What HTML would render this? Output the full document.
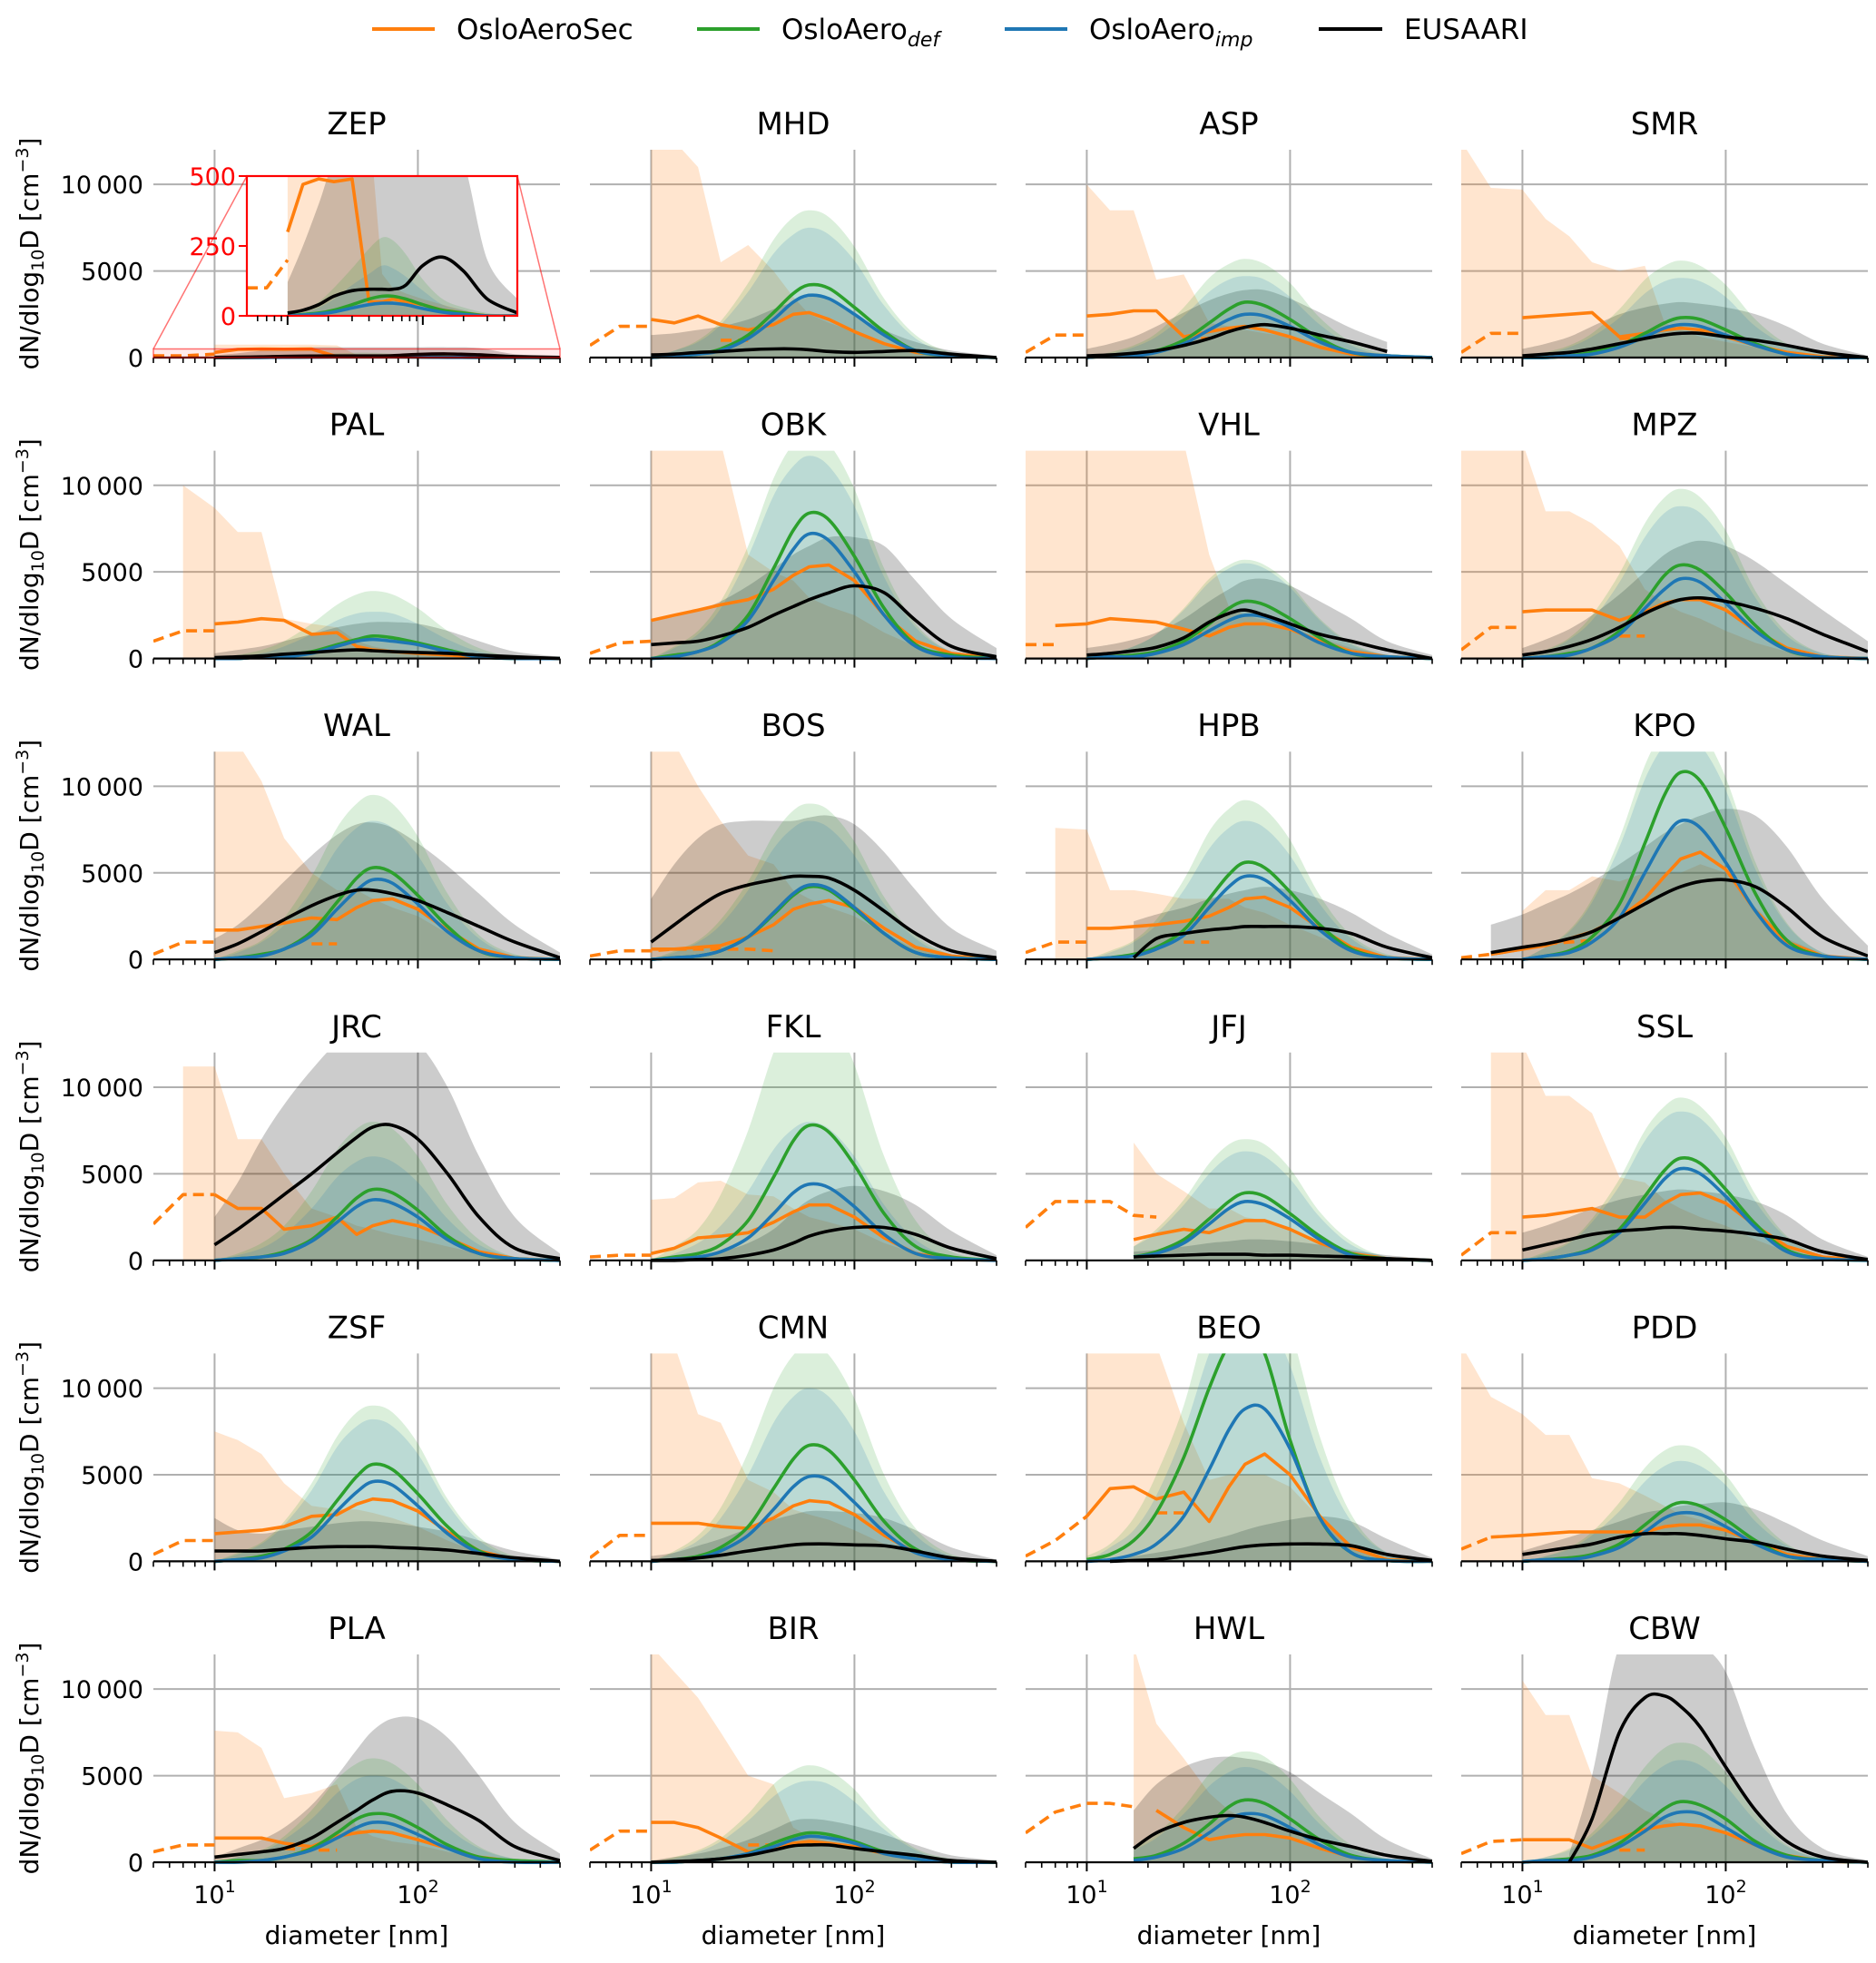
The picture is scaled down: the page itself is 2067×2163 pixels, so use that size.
<!DOCTYPE html>
<html><head><meta charset="utf-8">
<style>
body{margin:0;background:#fff;}
svg{display:block;font-family:"DejaVu Sans","Liberation Sans",sans-serif;}
</style></head>
<body>
<svg id="chart" width="2067" height="2163" viewBox="0 0 2067 2163" xmlns="http://www.w3.org/2000/svg">
<rect x="0" y="0" width="2067" height="2163" fill="#fff"/>
<g>
  <g>
    <line x1="410" y1="32" x2="479" y2="32" stroke="#ff7f0e" stroke-width="4"/>
    <text x="503" y="43" font-size="31" fill="#000">OsloAeroSec</text>
  </g>
  <g>
    <line x1="768" y1="32" x2="837" y2="32" stroke="#2ca02c" stroke-width="4"/>
    <text x="861" y="43" font-size="31" fill="#000">OsloAero<tspan font-size="22" font-style="italic" dy="8">def</tspan></text>
  </g>
  <g>
    <line x1="1107" y1="32" x2="1176" y2="32" stroke="#1f77b4" stroke-width="4"/>
    <text x="1200" y="43" font-size="31" fill="#000">OsloAero<tspan font-size="22" font-style="italic" dy="8">imp</tspan></text>
  </g>
  <g>
    <line x1="1453" y1="32" x2="1523" y2="32" stroke="#000" stroke-width="4"/>
    <text x="1547" y="43" font-size="31" fill="#000">EUSAARI</text>
  </g>
</g>
<defs id="defs"></defs>
<g id="panels"></g>
</svg>
<script>
const n = null;
const G = [5,7,10,13,17,22,30,40,50,60,75,100,140,200,300,500];
const GM = [10,13,17,22,30,40,50,60,75,100,140,200,300,500];
const stations = ["ZEP","MHD","ASP","SMR","PAL","OBK","VHL","MPZ","WAL","BOS","HPB","KPO","JRC","FKL","JFJ","SSL","ZSF","CMN","BEO","PDD","PLA","BIR","HWL","CBW"];
const yTickValues = [0,5000,10000];
const yTickLabels = ["0","5000","10\u2009000"];
const insetTickValues = [0,250,500];

// values in 1000 cm^-3 on grid G
const secLine = [
[n,n,.3,.47,.49,.48,.49,.05,.05,.06,.05,.04,.02,.01,0,0],
[n,n,2.2,2.0,2.4,1.9,1.6,1.9,2.5,2.6,2.2,1.5,.8,.3,.1,0],
[n,n,2.4,2.5,2.7,2.7,1.2,1.5,1.7,1.8,1.6,1.2,.6,.2,.05,0],
[n,n,2.3,2.4,2.5,2.6,1.2,1.4,1.6,1.7,1.6,1.2,.7,.3,.05,0],
[n,n,2.0,2.1,2.3,2.2,1.4,1.5,.7,.5,.4,.3,.2,.1,0,0],
[n,n,2.2,2.5,2.8,3.1,3.4,4.0,4.8,5.3,5.4,4.5,2.5,1,.3,0],
[n,1.9,2,2.3,2.2,2.1,1.7,1.3,1.8,2,2,1.7,1,.4,.1,0],
[n,n,2.7,2.8,2.8,2.8,2.2,2.7,3.2,3.4,3.4,2.8,1.6,.6,.1,0],
[n,n,1.7,1.7,1.9,2.1,2.4,2.3,3,3.4,3.5,2.9,1.7,.6,.1,0],
[n,n,.6,.6,.7,.8,1.3,2,2.9,3.2,3.4,3,1.8,.7,.2,0],
[n,n,1.8,1.8,1.9,2,2.2,2.5,3,3.5,3.6,3,1.8,.7,.1,0],
[n,.3,.6,.8,1.2,1.6,2.4,3.5,4.8,5.8,6.2,5.2,2.8,1,.2,0],
[n,n,3.8,3,3,1.8,2,2.5,1.5,2,2.3,2,1.3,.5,.1,0],
[n,n,.4,.7,1.3,1.4,1.6,2.2,2.8,3.2,3.2,2.5,1.3,.4,.05,0],
[n,n,n,n,1.2,1.5,1.8,1.6,2,2.3,2.3,1.8,1,.4,.1,0],
[n,n,2.5,2.6,2.8,3,2.5,2.5,3.3,3.8,3.9,3.3,2,.8,.2,0],
[n,n,1.6,1.7,1.8,2,2.6,2.7,3.3,3.6,3.5,2.9,1.7,.6,.1,0],
[n,n,2.2,2.2,2.2,2,1.9,2.5,3.2,3.5,3.4,2.7,1.5,.5,.1,0],
[n,n,2.6,4.2,4.3,3.6,4,2.3,4.3,5.6,6.2,5,2.6,.8,.1,0],
[n,1.4,1.5,1.6,1.7,1.7,1.7,1.7,2,2.1,2.1,1.8,1.1,.4,.1,0],
[n,n,1.4,1.4,1.4,1.1,.9,1.5,1.7,1.8,1.7,1.3,.8,.3,.05,0],
[n,n,2.3,2.3,2,1.4,.6,.8,1.1,1.2,1.1,.9,.5,.2,.05,0],
[n,n,n,n,n,3,2,1.3,1.5,1.6,1.6,1.4,.8,.3,.05,0],
[n,n,1.3,1.3,1.3,.8,1.4,1.9,2.1,2.2,2.1,1.7,1,.4,.05,0]
];
const secDash = [
[.1,.1,.2],[.7,1.8,1.8,n,n,1.0,1.0],[.3,1.3,1.3,n,n,n,1.1,1.1],[.3,1.4,1.4,n,n,n,1.1,1.1],
[1,1.6,1.6],[.3,.9,1],[.8,.8],[.5,1.8,1.8,n,n,n,1.3,1.3],
[.3,1,1,n,n,n,.9,.9],[.2,.5,.5,.6,.6,.6,.6,.5],[.4,1,1,n,n,n,1,1],[.1,.3,.6,.9,1,1.1],
[2.1,3.8,3.8],[.2,.3,.3],[1.9,3.4,3.4,3.4,2.6,2.5],[.3,1.6,1.6],
[.4,1.2,1.2],[.2,1.5,1.5],[.3,1.2,2.6,n,n,2.8,2.8],[.7,1.4],
[.6,1,1,n,n,.8,.7,.7],[.7,1.8,1.8,n,n,n,1,1],[1.7,2.9,3.4,3.4,3.2],[.5,1.2,1.3,n,n,n,.7,.7]
];
const secBand = [
[n,n,.75,.75,.75,.75,.75,.7,.15,.1,.08,.06,.04,.02,0,0],
[n,n,12.5,12.5,11,5.5,6.5,5,3.5,2.5,2,1.5,.8,.4,.2,0],
[n,n,10,8.5,8.5,4.5,4.8,2,1.8,1.6,1.4,1.2,.8,.4,.2,0],
[12.5,9.8,9.7,8,7,5.5,5,5.3,2,1.6,1.2,.9,.6,.3,.1,0],
[n,10,8.7,7.3,7.3,2.3,2,1.8,1,.7,.5,.3,.2,.1,0,0],
[n,n,12.5,12.5,12.5,12.5,6,5,4.5,3.5,3,2.5,1.5,.7,.3,0],
[12.5,12.5,12.5,12.5,12.5,12.5,12.5,6,3,2.5,2.2,1.8,1.2,.6,.2,0],
[12.5,12.5,12.5,8.5,8.5,7.8,6.5,4,3.2,2.7,2.3,1.6,.9,.4,.1,0],
[n,n,12.5,12.5,10.3,7,5,4,4,3.5,3,2.5,1.5,.6,.2,0],
[n,n,12.5,12.5,10,8,6,5.5,4,3.5,3,2.5,1.5,.6,.2,0],
[n,7.6,7.5,4,4,3.8,3.5,3.5,3.5,3,2.7,2,1.3,.6,.2,0],
[n,n,2.8,4,4,4.8,4.5,5,5,5,5.5,5,3,1.2,.3,0],
[n,11.2,11.2,7,7,5,3,2.5,2,1.8,1.5,1.2,.8,.4,.1,0],
[n,n,3.5,3.6,4.5,4.6,3.8,3.7,3,2.5,2.2,1.8,1,.4,.1,0],
[n,n,n,n,6.8,5,4,3,3,2.5,2.3,1.8,1.1,.5,.1,0],
[n,12.5,12.5,9.5,9.5,8.5,4.8,4.5,3.5,3,2.5,2,1.2,.5,.1,0],
[n,n,7.5,7,6.2,4.5,3.2,3,3,2.8,2.5,2,1.2,.5,.1,0],
[n,n,12.5,12.5,8.5,8,4.7,4,3,2.7,2.4,1.8,1,.4,.1,0],
[n,n,12.5,12.5,12.5,12.5,8,4.7,5,5,5,4.3,2.5,1,.2,0],
[12.5,9.5,8.5,7.3,7.3,4.8,4.5,3.8,3.2,2.7,2.4,2,1.3,.6,.2,0],
[n,n,7.6,7.5,6.6,3.7,4,4.5,2,1.5,1.2,1,.6,.3,.1,0],
[n,n,12.5,11,9.5,7.5,5,4.5,2,1.5,1.2,1,.6,.3,.1,0],
[n,n,n,n,12.5,8,6,4,3,2.5,2.2,1.8,1,.4,.1,0],
[n,n,10.5,8.5,8.5,5,4,3,2.5,2.2,2,1.6,1,.4,.1,0]
];
const obsLine = [
[n,n,.01,.02,.04,.07,.09,.095,.095,.095,.11,.18,.21,.16,.06,.01],
[n,n,.15,.2,.3,.35,.45,.5,.5,.45,.35,.3,.35,.4,.2,0],
[n,n,.1,.15,.25,.4,.7,1.1,1.5,1.75,1.9,1.7,1.3,.9,.35],
[n,n,.1,.2,.3,.5,.8,1.1,1.3,1.4,1.4,1.2,1,.7,.3,0],
[n,n,.05,.1,.15,.25,.35,.45,.5,.45,.4,.35,.3,.2,.1,0],
[n,n,.8,.9,1,1.3,1.8,2.5,3,3.4,3.8,4.2,3.8,2.2,.7,.1],
[n,n,.2,.3,.45,.65,1.2,2.1,2.6,2.8,2.5,2,1.4,1,.5,0],
[n,n,.2,.4,.7,1.1,1.8,2.6,3.1,3.4,3.5,3.3,2.9,2.3,1.4,.4],
[n,n,.4,.9,1.6,2.3,3.1,3.7,4,4,3.8,3.4,2.7,1.9,1,.1],
[n,n,1,2,3,3.8,4.3,4.6,4.8,4.8,4.7,4,2.8,1.5,.5,.1],
[n,n,n,n,.1,1.2,1.5,1.7,1.8,1.9,1.9,1.9,1.8,1.5,.7,.1],
[n,.4,.7,.9,1.2,1.6,2.4,3.2,3.8,4.2,4.5,4.6,4.2,3,1.3,.2],
[n,n,.9,1.8,2.8,3.8,5,6.2,7.1,7.7,7.8,7,5,2.5,.7,.1],
[n,n,0,0,.05,.1,.3,.6,1,1.4,1.7,1.9,1.9,1.5,.7,.1],
[n,n,n,n,.2,.25,.3,.35,.35,.35,.3,.3,.25,.2,.1,0],
[n,n,.6,.9,1.2,1.5,1.7,1.8,1.9,1.9,1.8,1.7,1.5,1.2,.5,.05],
[n,n,.6,.6,.6,.7,.8,.85,.85,.85,.8,.75,.65,.45,.2,0],
[n,n,.05,.1,.2,.35,.6,.8,.95,1,1,.95,.9,.6,.2,0],
[n,n,n,0,.05,.1,.3,.5,.7,.85,.95,1,1,.9,.4,.05],
[n,n,.4,.6,.8,1,1.4,1.6,1.6,1.6,1.5,1.3,1.1,.7,.3,.05],
[n,n,.3,.45,.6,.8,1.4,2.3,3,3.6,4.1,4,3.3,2.4,.9,.1],
[n,n,0,.05,.1,.2,.4,.7,.95,1,1,.8,.6,.4,.1,0],
[n,n,n,n,.8,1.7,2.3,2.6,2.7,2.6,2.3,1.8,1.3,.9,.4,.05],
[n,n,n,n,0,2.5,7.5,9.5,9.6,9,7.8,5.5,3,1.2,.3,0]
];
const obsBand = [
[n,n,.12,.25,.4,.55,.6,.6,.6,.6,.6,.6,.6,.55,.2,.06],
[n,n,1.3,1.4,1.6,1.8,2.2,2.8,3.2,3.5,3.5,2.5,1.6,.9,.4,.1],
[n,n,.5,.8,1.2,1.8,2.6,3.3,3.7,3.9,3.9,3.4,2.6,1.7,.9],
[n,n,.5,.8,1.2,1.8,2.5,2.9,3.1,3.2,3.1,2.9,2.5,1.8,.8,.1],
[n,n,.3,.5,.7,1,1.4,1.8,2,2.1,2.1,2,1.6,1,.4,.1],
[n,n,2.2,2.4,2.8,3.3,4.2,5.2,6,6.5,7,7,6.5,4.5,2.3,.6],
[n,n,.6,.8,1.1,1.5,2.3,3.3,4,4.5,4.6,4.2,3.3,2.3,1,.2],
[n,n,.6,1.1,1.7,2.5,3.7,5,6,6.5,6.8,6.5,5.6,4.3,2.8,1],
[n,n,1.2,2,3.2,4.5,6,7.2,7.8,7.9,7.6,6.7,5.4,3.8,2,.4],
[n,n,3.5,5.5,7,7.8,8,8,8,8.2,8.3,7.8,6.2,4,1.8,.5],
[n,n,n,n,2.2,2.6,3,3.5,3.8,4,4.2,4,3.5,2.7,1.5,.3],
[n,2,2.6,3.2,3.8,4.5,5.5,6.5,7.3,7.8,8.3,8.7,8.3,6.5,3.5,.8],
[n,n,2.5,4.5,7,9,11,12.5,12.5,12.5,12.5,12.5,10,6,2.5,.4],
[n,n,.1,.2,.3,.5,1,1.8,2.8,3.5,4,4.3,4,3.2,1.7,.3],
[n,n,n,n,.5,.6,.8,1,1.1,1.2,1.2,1.1,.9,.6,.3,.1],
[n,n,1.6,2,2.5,3,3.5,3.8,4,4.1,4,3.8,3.4,2.6,1.2,.2],
[n,n,2.5,1.8,1.6,1.8,2,2.2,2.3,2.3,2.2,2,1.7,1.2,.6,.1],
[n,n,.3,.5,.9,1.3,1.9,2.4,2.7,2.9,2.9,2.8,2.5,1.8,.8,.1],
[n,n,n,.2,.3,.5,.8,1.2,1.5,1.8,2.1,2.4,2.6,2.3,1.3,.2],
[n,n,.6,1,1.4,1.8,2.3,2.8,3,3.2,3.3,3.4,3,2.2,1.2,.3],
[n,n,.3,.8,1.3,2,3.3,5,6.5,7.6,8.3,8.3,7.2,5,2.3,.5],
[n,n,.1,.3,.5,.8,1.3,1.9,2.4,2.5,2.4,2.1,1.6,1,.4,.1],
[n,n,n,n,3,4.5,5.5,6,6.1,6,5.8,5.2,4,2.8,1.3,.2],
[n,n,n,n,.5,5,12.5,12.5,12.5,12.5,12.5,11,6.5,2.8,.8,.1]
];
// model values on grid GM
const defLine = [
[0,.005,.01,.02,.04,.06,.07,.07,.06,.04,.02,.01,0,0],
[0,.1,.2,.5,1.3,2.6,3.7,4.2,4,2.9,1.5,.4,.1,0],
[0,.1,.2,.4,1,2,2.8,3.2,3,2.2,1.1,.3,.1,0],
[0,0,.1,.3,.7,1.4,2,2.3,2.2,1.6,.8,.2,0,0],
[0,0,.1,.2,.4,.8,1.1,1.3,1.2,.9,.5,.1,0,0],
[0,.2,.4,1,2.5,5.2,7.4,8.4,8,5.9,2.9,.8,.2,0],
[0,.1,.2,.4,1,2,2.9,3.3,3.1,2.3,1.2,.3,.1,0],
[0,.1,.3,.6,1.6,3.3,4.8,5.4,5.1,3.8,1.9,.5,.1,0],
[0,.1,.3,.6,1.6,3.3,4.7,5.3,5,3.7,1.9,.5,.1,0],
[0,.1,.2,.5,1.3,2.6,3.7,4.2,4,2.9,1.5,.4,.1,0],
[0,.1,.3,.7,1.7,3.5,4.9,5.6,5.3,3.9,2,.6,.1,0],
[0,.2,.5,1.3,3.2,6.7,9.5,10.8,10.3,7.6,3.8,1.1,.2,0],
[0,.1,.2,.5,1.2,2.5,3.6,4.1,3.9,2.9,1.4,.4,.1,0],
[0,.2,.4,.9,2.3,4.8,6.9,7.8,7.4,5.5,2.7,.8,.2,0],
[n,n,.2,.5,1.2,2.4,3.4,3.9,3.7,2.7,1.4,.4,.1,0],
[0,.1,.3,.7,1.8,3.7,5.2,5.9,5.6,4.1,2.1,.6,.1,0],
[0,.1,.3,.7,1.7,3.5,4.9,5.6,5.3,3.9,2,.6,.1,0],
[0,.1,.3,.8,2,4.2,5.9,6.7,6.4,4.7,2.3,.7,.1,0],
[.1,.4,1.2,2.8,6,10,12.5,13,12,7,2.5,.5,.05,0],
[0,.1,.2,.4,1,2.1,3,3.4,3.2,2.4,1.2,.3,.1,0],
[0,.1,.1,.3,.8,1.7,2.5,2.8,2.7,2,1,.3,.1,0],
[0,0,.1,.2,.5,1.1,1.5,1.7,1.6,1.2,.6,.2,0,0],
[n,n,.2,.4,1.1,2.2,3.2,3.6,3.4,2.5,1.3,.4,.1,0],
[0,.1,.2,.4,1.1,2.2,3.1,3.5,3.3,2.5,1.2,.4,.1,0]
];
const defBand = [
[0,.02,.05,.1,.17,.24,.28,.27,.22,.13,.06,.03,.01,0],
[0,.4,1,2.1,4.3,6.8,8.1,8.5,8.1,6.4,3.4,1.3,.3,0],
[0,.3,.7,1.4,2.9,4.6,5.4,5.7,5.4,4.3,2.3,.9,.2,0],
[0,.3,.7,1.4,2.8,4.5,5.3,5.6,5.3,4.2,2.2,.8,.2,0],
[0,.2,.5,1,2,3.1,3.7,3.9,3.7,2.9,1.6,.6,.1,0],
[0,.7,1.6,3.3,6.5,10.4,12.4,13,12.4,9.8,5.2,2,.4,0],
[0,.3,.7,1.4,2.9,4.6,5.4,5.7,5.4,4.3,2.3,.9,.2,0],
[0,.5,1.2,2.5,4.9,7.8,9.3,9.8,9.3,7.4,3.9,1.5,.3,0],
[0,.5,1.1,2.4,4.8,7.6,9,9.5,9,7.1,3.8,1.4,.3,0],
[0,.5,1.1,2.3,4.5,7.2,8.6,9,8.6,6.8,3.6,1.4,.3,0],
[0,.5,1.1,2.3,4.6,7.4,8.7,9.2,8.7,6.9,3.7,1.4,.3,0],
[0,.7,1.7,3.5,7,11.2,13.3,14,13.3,10.5,5.6,2.1,.4,0],
[0,.4,1,2,4,6.4,7.6,8,7.6,6,3.2,1.2,.2,0],
[0,.8,1.8,3.8,7.5,12,14.3,15,14.3,11.3,6,2.3,.5,0],
[n,n,.8,1.8,3.5,5.6,6.7,7,6.7,5.3,2.8,1.1,.2,0],
[0,.5,1.1,2.4,4.7,7.5,8.9,9.4,8.9,7.1,3.8,1.4,.3,0],
[0,.5,1.1,2.3,4.5,7.2,8.6,9,8.6,6.8,3.6,1.4,.3,0],
[0,.6,1.5,3.1,6.3,10,11.9,12.5,11.9,9.4,5,1.9,.4,0],
[.3,1,2.5,5,9,14.4,17,18,17,13.5,7.2,2.7,.5,0],
[0,.3,.8,1.7,3.4,5.4,6.4,6.7,6.4,5,2.7,1,.2,0],
[0,.3,.7,1.5,3,4.8,5.7,6,5.7,4.5,2.4,.9,.2,0],
[0,.3,.7,1.4,2.8,4.5,5.3,5.6,5.3,4.2,2.2,.8,.2,0],
[n,n,.8,1.6,3.2,5.1,6.1,6.4,6.1,4.8,2.6,1,.2,0],
[0,.3,.8,1.7,3.5,5.5,6.6,6.9,6.6,5.2,2.8,1,.2,0]
];
const impLine = [
[0,.003,.007,.014,.028,.04,.045,.045,.04,.026,.013,.005,0,0],
[0,.1,.2,.4,1.1,2.2,3.2,3.6,3.4,2.5,1.3,.4,.1,0],
[0,.1,.1,.3,.8,1.6,2.2,2.5,2.4,1.8,.9,.3,.1,0],
[0,0,.1,.2,.6,1.2,1.7,1.9,1.8,1.3,.7,.2,0,0],
[0,0,.1,.1,.3,.7,1,1.1,1,.8,.4,.1,0,0],
[0,.1,.4,.9,2.2,4.5,6.3,7.2,6.8,5,2.5,.7,.1,0],
[0,.1,.1,.3,.8,1.6,2.2,2.5,2.4,1.8,.9,.3,.1,0],
[0,.1,.2,.6,1.4,2.9,4,4.6,4.4,3.2,1.6,.5,.1,0],
[0,.1,.2,.6,1.4,2.9,4,4.6,4.4,3.2,1.6,.5,.1,0],
[0,.1,.2,.5,1.3,2.7,3.8,4.3,4.1,3,1.5,.4,.1,0],
[0,.1,.2,.6,1.4,3,4.2,4.8,4.6,3.4,1.7,.5,.1,0],
[0,.2,.4,1,2.4,5,7,8,7.6,5.6,2.8,.8,.2,0],
[0,.1,.2,.4,1.1,2.2,3.1,3.5,3.3,2.5,1.2,.4,.1,0],
[0,.1,.2,.5,1.3,2.7,3.9,4.4,4.2,3.1,1.5,.4,.1,0],
[n,n,.2,.4,1,2.1,3,3.4,3.2,2.4,1.2,.3,.1,0],
[0,.1,.3,.6,1.6,3.3,4.7,5.3,5,3.7,1.9,.5,.1,0],
[0,.1,.2,.6,1.4,2.9,4,4.6,4.4,3.2,1.6,.5,.1,0],
[0,.1,.2,.6,1.5,3,4.3,4.9,4.7,3.4,1.7,.5,.1,0],
[0,.1,.4,1,2.6,5.3,7.6,8.8,8.8,6.5,2.5,.5,.05,0],
[0,.1,.1,.3,.8,1.7,2.5,2.8,2.7,2,1,.3,.1,0],
[0,0,.1,.3,.7,1.4,2,2.3,2.2,1.6,.8,.2,0,0],
[0,0,.1,.2,.5,.9,1.3,1.5,1.4,1.1,.5,.2,0,0],
[n,n,.1,.3,.8,1.7,2.5,2.8,2.7,2,1,.3,.1,0],
[0,.1,.1,.3,.9,1.8,2.6,2.9,2.8,2,1,.3,.1,0]
];
const impBand = [
[0,.01,.03,.06,.11,.15,.18,.17,.14,.09,.04,.02,.005,0],
[0,.4,.9,1.9,3.8,6,7.1,7.5,7.1,5.6,3,1.1,.2,0],
[0,.2,.6,1.2,2.4,3.8,4.5,4.7,4.5,3.5,1.9,.7,.1,0],
[0,.2,.6,1.2,2.3,3.7,4.4,4.6,4.4,3.5,1.8,.7,.1,0],
[0,.1,.3,.7,1.4,2.2,2.6,2.7,2.6,2,1.1,.4,.1,0],
[0,.6,1.4,2.9,5.9,9.4,11.1,11.7,11.1,8.8,4.7,1.8,.4,0],
[0,.3,.7,1.4,2.8,4.4,5.2,5.5,5.2,4.1,2.2,.8,.2,0],
[0,.4,1.1,2.2,4.4,7,8.4,8.8,8.4,6.6,3.5,1.3,.3,0],
[0,.4,1,2,4,6.4,7.6,8,7.6,6,3.2,1.2,.2,0],
[0,.4,1,2,4,6.4,7.6,8,7.6,6,3.2,1.2,.2,0],
[0,.4,1,2,4,6.4,7.6,8,7.6,6,3.2,1.2,.2,0],
[0,.7,1.6,3.3,6.5,10.4,12.4,13,12.4,9.8,5.2,2,.4,0],
[0,.3,.7,1.5,3,4.8,5.7,6,5.7,4.5,2.4,.9,.2,0],
[0,.4,1,2,4,6.4,7.6,8,7.6,6,3.2,1.2,.2,0],
[n,n,.8,1.6,3.2,5,6,6.3,6,4.7,2.5,.9,.2,0],
[0,.4,1,2.2,4.3,6.9,8.2,8.6,8.2,6.5,3.4,1.3,.3,0],
[0,.4,1,2.1,4.1,6.6,7.8,8.2,7.8,6.2,3.3,1.2,.2,0],
[0,.5,1.2,2.5,5,8,9.5,10,9.5,7.5,4,1.5,.3,0],
[0,.8,1.8,3.8,7.5,12,14.3,15,14.3,11.3,6,2.3,.5,0],
[0,.3,.7,1.5,2.9,4.6,5.5,5.8,5.5,4.4,2.3,.9,.2,0],
[0,.3,.6,1.3,2.5,4,4.8,5,4.8,3.8,2,.8,.2,0],
[0,.2,.6,1.2,2.4,3.8,4.5,4.7,4.5,3.5,1.9,.7,.1,0],
[n,n,.7,1.4,2.8,4.4,5.2,5.5,5.2,4.1,2.2,.8,.2,0],
[0,.3,.7,1.5,3,4.7,5.6,5.9,5.6,4.4,2.4,.9,.2,0]
];

const NS = "http://www.w3.org/2000/svg";
const root = document.getElementById("panels");
const defs = document.getElementById("defs");
const colX = [169,650,1130,1610];
const PW = 448, PH = 229, YMAX = 12;
function mk(tag, attrs, parent){
  const e = document.createElementNS(NS, tag);
  for (const k in attrs) e.setAttribute(k, attrs[k]);
  parent.appendChild(e);
  return e;
}
function segs(xs, vs, sx, sy){
  const out=[]; let cur=[];
  for (let i=0;i<xs.length;i++){
    const v = (i<vs.length)? vs[i] : null;
    if (v===null || v===undefined){ if(cur.length) out.push(cur); cur=[]; }
    else cur.push([sx(xs[i]), sy(v)]);
  }
  if(cur.length) out.push(cur);
  return out;
}
function smooth(p){
  let d = "M"+p[0][0].toFixed(1)+","+p[0][1].toFixed(1);
  for (let i=0;i<p.length-1;i++){
    const p0=p[i-1]||p[i], p1=p[i], p2=p[i+1], p3=p[i+2]||p2;
    const c1=[p1[0]+(p2[0]-p0[0])/6, p1[1]+(p2[1]-p0[1])/6];
    const c2=[p2[0]-(p3[0]-p1[0])/6, p2[1]-(p3[1]-p1[1])/6];
    d += "C"+c1[0].toFixed(1)+","+c1[1].toFixed(1)+" "+c2[0].toFixed(1)+","+c2[1].toFixed(1)+" "+p2[0].toFixed(1)+","+p2[1].toFixed(1);
  }
  return d;
}
function linear(p){ return "M"+p.map(q=>q[0].toFixed(1)+","+q[1].toFixed(1)).join("L"); }

function drawSeries(g, sx, sy, y0, i){
  const bandSpecs = [
    [G, secBand[i], "rgba(255,127,14,0.2)", false, "osloaerosec-range"],
    [G, obsBand[i], "rgba(0,0,0,0.2)", true, "eusaari-range"],
    [GM, defBand[i], "rgba(44,160,44,0.17)", true, "osloaero-def-range"],
    [GM, impBand[i], "rgba(31,119,180,0.17)", true, "osloaero-imp-range"]
  ];
  for (const b of bandSpecs){
    for (const s of segs(b[0], b[1], sx, sy)){
      if (s.length<2) continue;
      const d = (b[3]? smooth(s) : linear(s)) + "L"+s[s.length-1][0].toFixed(1)+","+y0+"L"+s[0][0].toFixed(1)+","+y0+"Z";
      const el = mk("path",{d:d, fill:b[2], stroke:"none"}, g);
      
      
    }
  }
  const lineSpecs = [
    [G, secDash[i], "#ff7f0e", false, "osloaerosec-small-mode-line", "12,7"],
    [G, secLine[i], "#ff7f0e", false, "osloaerosec-line", null],
    [GM, defLine[i], "#2ca02c", true, "osloaero-def-line", null],
    [GM, impLine[i], "#1f77b4", true, "osloaero-imp-line", null],
    [G, obsLine[i], "#000000", true, "eusaari-line", null]
  ];
  for (const l of lineSpecs){
    for (const s of segs(l[0], l[1], sx, sy)){
      if (s.length<2) continue;
      const el = mk("path",{d:(l[3]?smooth(s):linear(s)), fill:"none", stroke:l[2], "stroke-width":3.6, "stroke-linejoin":"round"}, g);
      if (l[5]) el.setAttribute("stroke-dasharray", l[5]);
      
      
    }
  }
}
const minorD = [6,7,8,9,20,30,40,50,60,70,80,90,200,300,400];
const majorD = [10,100];

stations.forEach((st, i)=>{
  const col=i%4, row=Math.floor(i/4);
  const x0=colX[col], y0=394+row*331.6, yTop=y0-PH;
  const sx = d => x0 + (Math.log10(d)-Math.log10(5))/2*PW;
  const sy = v => y0 - v/YMAX*PH;
  const g = mk("g",{}, root);
  
  
  // grid
  for (const v of [5,10]){
    const gl = mk("line",{x1:x0,x2:x0+PW,y1:sy(v),y2:sy(v),stroke:"#b0b0b0","stroke-width":2},g);
    
    
  }
  for (const d of majorD){
    const gl = mk("line",{x1:sx(d),x2:sx(d),y1:yTop,y2:y0,stroke:"#b0b0b0","stroke-width":2},g);
    
    
  }
  const cp = mk("clipPath",{id:"clip"+i}, defs);
  mk("rect",{x:x0,y:yTop,width:PW,height:PH+3}, cp);
  const plot = mk("g",{"clip-path":"url(#clip"+i+")"}, g);
  
  
  drawSeries(plot, sx, sy, y0, i);
  // axis
  const ax = mk("line",{x1:x0,x2:x0+PW,y1:y0,y2:y0,stroke:"#000","stroke-width":2.2},g);
  
  
  for (const d of majorD){
    const t = mk("line",{x1:sx(d),x2:sx(d),y1:y0,y2:y0+10,stroke:"#000","stroke-width":2},g);
    
    
  }
  for (const d of minorD.concat([5,500])){
    const t = mk("line",{x1:sx(d),x2:sx(d),y1:y0,y2:y0+6,stroke:"#000","stroke-width":1.6},g);
    
    
  }
  const title = mk("text",{x:x0+PW/2,y:yTop-17,"text-anchor":"middle","font-size":34,fill:"#000"},g);
  title.textContent = st;
  
  
  if (col===0){
    yTickValues.forEach((v,k)=>{
      const tl = mk("text",{x:158,y:sy(v/1000)+10,"text-anchor":"end","font-size":27,fill:"#000"},g);
      tl.textContent = yTickLabels[k];
      
      
    });
    const yl = mk("text",{x:0,y:0,"text-anchor":"middle","font-size":28,fill:"#000",transform:"translate(42,"+((yTop+y0)/2)+") rotate(-90)"},g);
    yl.innerHTML = 'dN/dlog<tspan font-size="19" dy="6">10</tspan><tspan dy="-6">D [cm</tspan><tspan font-size="19" dy="-11">\u22123</tspan><tspan dy="11">]</tspan>';
    
    
  }
  if (row===5){
    [1,2].forEach(p=>{
      const tl = mk("text",{x:sx(Math.pow(10,p)),y:y0+45,"text-anchor":"middle","font-size":27,fill:"#000"},g);
      tl.innerHTML = '10<tspan font-size="19" dy="-12">'+p+'</tspan>';
      
      
    });
    const xl = mk("text",{x:x0+PW/2,y:y0+90,"text-anchor":"middle","font-size":28,fill:"#000"},g);
    xl.textContent = "diameter [nm]";
    
    
  }
});

// ZEP inset
(function(){
  const ix0=272, iw=298, iy0=348, ih=154;
  const sx = d => ix0 + (Math.log10(d)-Math.log10(5))/2*iw;
  const sy = v => iy0 - v/0.5*ih;
  const g = mk("g",{}, root);
  
  
  const zr = mk("rect",{x:169,y:384.5,width:448,height:9.5,fill:"rgba(255,0,0,0.08)",stroke:"rgba(255,0,0,0.55)","stroke-width":1.5},g);
  
  
  const c1 = mk("line",{x1:169,y1:384.5,x2:ix0,y2:iy0-ih,stroke:"rgba(255,0,0,0.55)","stroke-width":1.5},g);
  
  
  const c2 = mk("line",{x1:617,y1:384.5,x2:ix0+iw,y2:iy0-ih,stroke:"rgba(255,0,0,0.55)","stroke-width":1.5},g);
  
  
  const bg = mk("rect",{x:ix0,y:iy0-ih,width:iw,height:ih,fill:"#fff"},g);
  
  
  const cp = mk("clipPath",{id:"clipInset"}, defs);
  mk("rect",{x:ix0,y:iy0-ih,width:iw,height:ih}, cp);
  const plot = mk("g",{"clip-path":"url(#clipInset)"}, g);
  
  
  drawSeries(plot, sx, sy, iy0, 0);
  const fr = mk("rect",{x:ix0,y:iy0-ih,width:iw,height:ih,fill:"none",stroke:"#ff0000","stroke-width":2.2},g);
  
  
  for (const d of majorD){
    const t = mk("line",{x1:sx(d),x2:sx(d),y1:iy0,y2:iy0+10,stroke:"#000","stroke-width":2},g);
    
    
  }
  for (const d of minorD){
    const t = mk("line",{x1:sx(d),x2:sx(d),y1:iy0,y2:iy0+6,stroke:"#000","stroke-width":1.6},g);
    
    
  }
  insetTickValues.forEach(v=>{
    const t = mk("line",{x1:ix0-9,x2:ix0,y1:sy(v/1000),y2:sy(v/1000),stroke:"#ff0000","stroke-width":2},g);
    
    
    const tl = mk("text",{x:ix0-12,y:sy(v/1000)+10,"text-anchor":"end","font-size":27,fill:"#ff0000"},g);
    tl.textContent = String(v);
    
    
  });
})();
</script>
</body></html>
